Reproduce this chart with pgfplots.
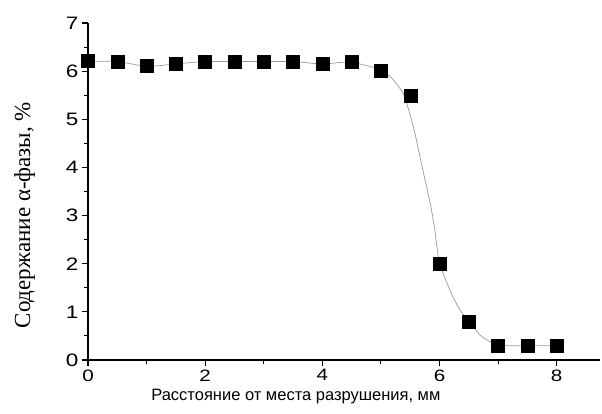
\documentclass[border=0pt]{standalone}
\usepackage{fontspec}
\setmainfont{Liberation Sans}
\newfontfamily\timesfont{Liberation Serif}
\usepackage{graphicx}
\usepackage{pgfplots}
\pgfplotsset{compat=1.18}
\begin{document}
\begin{tikzpicture}
\begin{axis}[
  scale only axis,
  width=512pt, height=337pt,
  xmin=0, xmax=8.74, ymin=0, ymax=7,
  axis x line*=bottom, axis y line*=left,
  axis line style={line width=1.3pt},
  xtick={0,2,4,6,8}, ytick={0,1,2,3,4,5,6,7},
  minor x tick num=1, minor y tick num=1,
  tick align=outside,
  major tick length=6pt, minor tick length=4pt,
  tick style={line width=1.1pt, black},
  /pgf/number format/assume math mode=true,
  xticklabel={\scalebox{1.25}[1]{\pgfmathprintnumber{\tick}}},
  yticklabel={\scalebox{1.25}[1]{\pgfmathprintnumber{\tick}}},
  xticklabel style={font=\fontsize{16.5}{18}\selectfont},
  yticklabel style={font=\fontsize{18}{21}\selectfont},
  xlabel={Расстояние от места разрушения, мм},
  xlabel style={font=\fontsize{16.5}{18}\selectfont, at={(ticklabel cs:0.406)}, yshift=-1pt},
  ylabel={Содержание α-фазы, \%},
  ylabel style={font=\timesfont\fontsize{23}{25}\selectfont, at={(ticklabel cs:0.43)}, yshift=24pt},
  clip=false,
]
\addplot[color=gray!80, line width=0.7pt, smooth, tension=0.4] coordinates {
 (0,6.2) (0.5,6.2) (1,6.1) (1.5,6.15) (2,6.2) (2.5,6.2) (3,6.2) (3.5,6.2) (4,6.15) (4.5,6.2)
 (4.64,6.15) (5.0,6.03) (5.18,5.86) (5.38,5.54) (5.49,5.13) (5.58,4.71) (5.69,4.09)
 (5.85,3.2) (5.92,2.7) (6.0,2.02) (6.2,1.39) (6.35,1.04) (6.5,0.82) (6.69,0.52)
 (6.91,0.35) (7.1,0.3) (8,0.3)
};
\addplot[only marks, mark=square*, mark size=6.5pt, black] coordinates {
 (0,6.22) (0.5,6.2) (1,6.12) (1.5,6.15) (2,6.2) (2.5,6.2) (3,6.2) (3.5,6.2) (4,6.15) (4.5,6.2)
 (5,6.0) (5.5,5.5) (6,2.0) (6.5,0.8) (7,0.3) (7.5,0.3) (8,0.3)
};
\end{axis}
\useasboundingbox (-88pt,-53pt) rectangle (514pt,360pt);
\end{tikzpicture}
\end{document}
